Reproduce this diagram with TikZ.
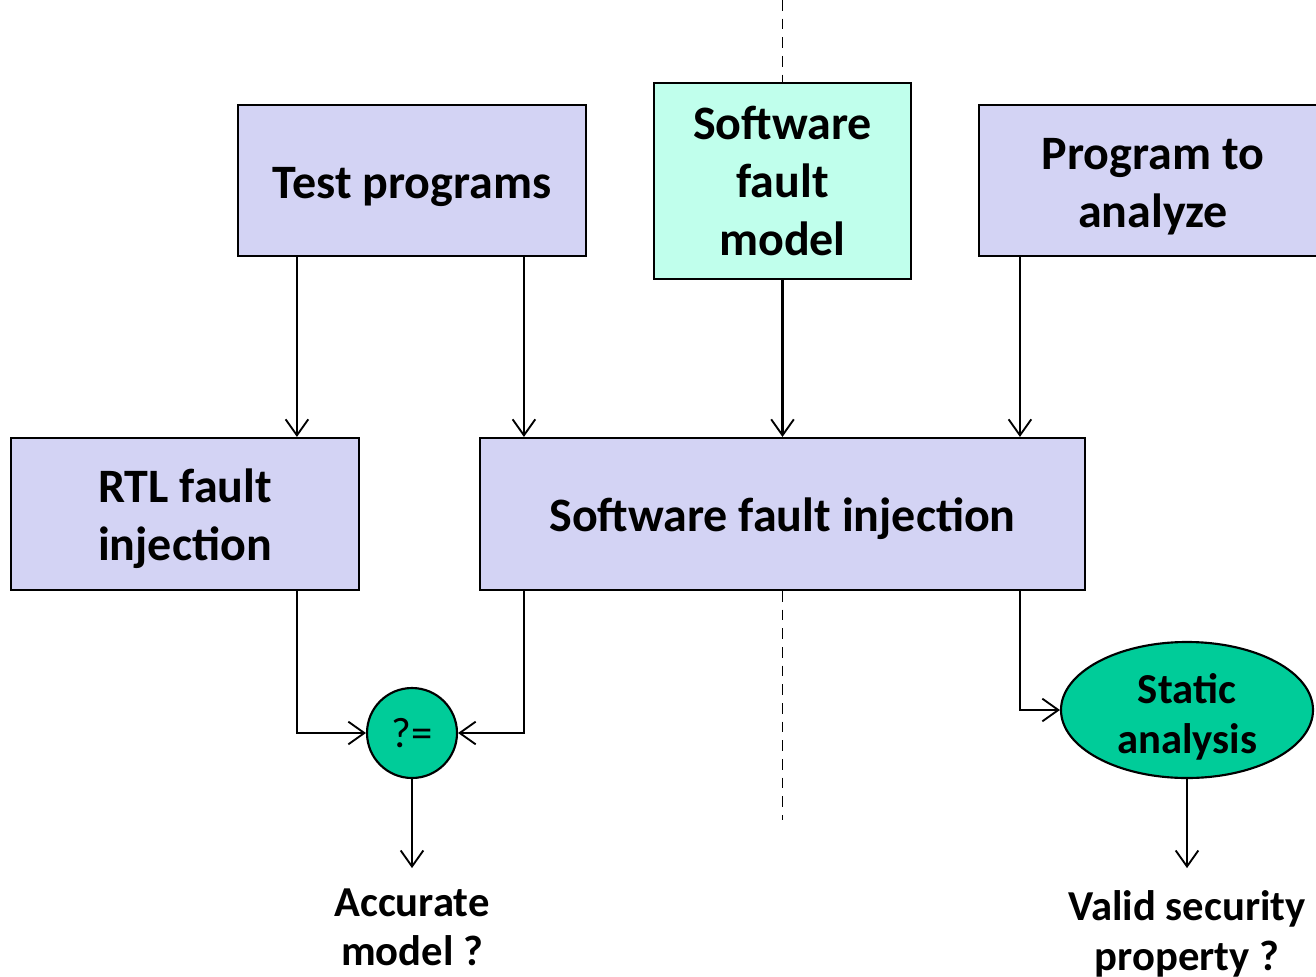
\documentclass[tikz,border=0pt]{standalone}
\usepackage{fontspec}
\setmainfont{Carlito}
\usetikzlibrary{arrows.meta,calc,shapes.geometric}
\definecolor{lav}{RGB}{211,211,244}
\definecolor{aqua}{RGB}{192,255,236}
\definecolor{teal}{RGB}{0,204,153}
\newcommand{\dnstrut}[1]{\rule{0pt}{#1}}
\tikzset{
  box/.style={draw=black,line width=1.6pt,fill=lav,inner sep=0pt,align=center,
    font=\fontsize{36}{43.5}\selectfont\bfseries},
  arr/.style={draw=black,line width=1.6pt,-{Straight Barb[length=12pt,width=17pt,line width=1.4pt]}},
  lbl/.style={inner sep=0pt,align=center,font=\fontsize{32}{37}\selectfont\bfseries},
  divider/.style={draw=black,line width=1.4pt,dash pattern=on 8pt off 6pt}
}
\begin{document}
\begin{tikzpicture}[x=0.75pt,y=-0.75pt]
\clip (0,0) rectangle (1316,977);
\fill[white] (0,0) rectangle (1316,977);
% nodes
\node[box,minimum width=261pt,minimum height=113.25pt] (tp) at (412,180.5) {\dnstrut{0.9em}Test programs};
\node[box,fill=aqua,minimum width=192.75pt,minimum height=147pt] (sfm) at (782.5,181) {Software\\fault\\model};
\node[box,minimum width=261pt,minimum height=113.25pt] (pa) at (1153,180.5) {\dnstrut{0.9em}Program to\\analyze};
\node[box,minimum width=261pt,minimum height=114pt] (rtl) at (185,514) {\dnstrut{0.9em}RTL fault\\injection};
\node[box,minimum width=453.75pt,minimum height=114pt] (sfi) at (782.5,514) {\dnstrut{0.9em}Software fault injection};
\node[circle,draw=black,line width=1.6pt,fill=teal,minimum size=67.5pt,inner sep=0pt,
  font=\fontsize{32}{37}\selectfont] (eq) at (412,733) {?=};
\node[ellipse,draw=black,line width=1.6pt,fill=teal,minimum width=189pt,minimum height=102pt,inner xsep=0pt,inner ysep=-6pt,align=center,
  font=\fontsize{32}{38}\selectfont\bfseries] (sa) at (1187,710) {\dnstrut{1.03em}Static\\analysis};
\node[lbl] (acc) at (412,927) {Accurate\\model ?};
\node[lbl] (vsp) at (1187,934) {Valid security\\property ?};
% divider
\coordinate (top) at (782.5,0);
\coordinate (bot) at (782.5,820);
\draw[divider] (top) -- (sfm.north);
\draw[divider] (sfi.south) -- (bot);
% coordinates
\coordinate (t1) at ([xshift=45pt]tp.south west);
\coordinate (t2) at ([xshift=215.25pt]tp.south west);
\coordinate (p1) at ([xshift=31.5pt]pa.south west);
\coordinate (r1) at ([xshift=215.25pt]rtl.south west);
\coordinate (s1) at ([xshift=33.75pt]sfi.south west);
\coordinate (s2) at ([xshift=405.75pt]sfi.south west);
% arrows
\draw[arr] (t1) -- (t1 |- rtl.north);
\draw[arr] (t2) -- (t2 |- sfi.north);
\draw[arr] (sfm.south) -- (sfi.north);
\draw[arr] (p1) -- (p1 |- sfi.north);
\draw[arr] (r1) |- (eq.west);
\draw[arr] (s1) |- (eq.east);
\draw[arr] (s2) |- (sa.west);
\draw[arr,shorten >=15pt] (eq.south) -- (acc.north);
\draw[arr,shorten >=17pt] (sa.south) -- (vsp.north);
\end{tikzpicture}
\end{document}
